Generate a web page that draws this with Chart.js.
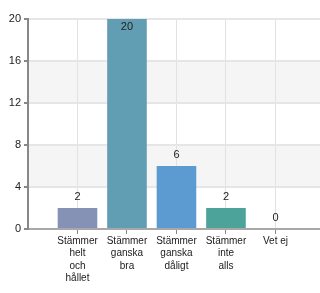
<!DOCTYPE html>
<html>
<head>
<meta charset="utf-8">
<script src="https://cdn.jsdelivr.net/npm/chart.js@4"></script>
<style>
  html, body { margin: 0; padding: 0; background: #fff; }
  #wrap { width: 320px; height: 293px; }
</style>
</head>
<body>
<div id="wrap"><canvas id="chart"></canvas></div>
<script>
// svarsalternativ (radbrutna som i originalet)
const categories = [
  ['Stämmer', 'helt', 'och', 'hållet'],
  ['Stämmer', 'ganska', 'bra'],
  ['Stämmer', 'ganska', 'dåligt'],
  ['Stämmer', 'inte', 'alls'],
  ['Vet ej']
];
const counts = [2, 20, 6, 2, 0];
const barColors = ['#8592b6', '#619db3', '#5c9bd2', '#4ba39a', '#8fb5cf'];
const yTicks = [0, 4, 8, 12, 16, 20];

// grå band mellan 4-8 och 12-16
const bandPlugin = {
  id: 'bands',
  beforeDraw(chart) {
    const { ctx, chartArea, scales } = chart;
    ctx.save();
    ctx.fillStyle = '#f5f5f5';
    for (let i = 1; i < yTicks.length - 1; i += 2) {
      const y1 = scales.y.getPixelForValue(yTicks[i + 1]);
      const y0 = scales.y.getPixelForValue(yTicks[i]);
      ctx.fillRect(chartArea.left, y1, chartArea.right - chartArea.left, y0 - y1);
    }
    ctx.restore();
  }
};

// värden ovanför staplarna
const valuePlugin = {
  id: 'values',
  afterDatasetsDraw(chart) {
    const { ctx, chartArea } = chart;
    const meta = chart.getDatasetMeta(0);
    ctx.save();
    ctx.font = '11px "Liberation Sans", Arial, sans-serif';
    ctx.fillStyle = '#222';
    ctx.textAlign = 'center';
    ctx.textBaseline = 'middle';
    meta.data.forEach((bar, i) => {
      let y = bar.y - 11;
      if (y < chartArea.top + 4) y = bar.y + 8;
      ctx.fillText(String(counts[i]), bar.x, y);
    });
    ctx.restore();
  }
};

new Chart(document.getElementById('chart'), {
  type: 'bar',
  data: {
    datasets: [{
      data: counts.map((v, i) => ({ x: i + 1, y: v })),
      backgroundColor: barColors,
      borderWidth: 0,
      barPercentage: 0.8,
      categoryPercentage: 1
    }]
  },
  options: {
    responsive: true,
    maintainAspectRatio: false,
    animation: false,
    layout: { padding: { top: 19, left: 0, right: 0, bottom: 0 } },
    plugins: { legend: { display: false }, tooltip: { enabled: false } },
    scales: {
      x: {
        type: 'linear',
        offset: false,
        min: 0,
        max: 5.9,
        afterBuildTicks(scale) {
          scale.ticks = categories.map((c, i) => ({ value: i + 1 }));
        },
        afterFit(scale) { scale.height = 64; },
        border: { color: '#a8a8a8', width: 2 },
        grid: { offset: false, color: '#e2e2e2', lineWidth: 1, tickLength: 5, tickColor: '#888' },
        ticks: {
          padding: 1,
          maxRotation: 0,
          autoSkip: false,
          color: '#1a1a1a',
          font: { family: '"Liberation Sans", Arial, sans-serif', size: 10, lineHeight: 1.23 },
          callback: (v) => categories[v - 1] || ''
        }
      },
      y: {
        min: 0,
        max: 20,
        afterBuildTicks(scale) {
          scale.ticks = yTicks.map(v => ({ value: v }));
        },
        afterFit(scale) { scale.width = 28; },
        border: { color: '#888', width: 2 },
        grid: { color: '#e6e6e6', lineWidth: 2, tickLength: 4, tickColor: '#888' },
        ticks: {
          padding: 3,
          color: '#222',
          font: { family: '"Liberation Sans", Arial, sans-serif', size: 11 }
        }
      }
    }
  },
  plugins: [bandPlugin, valuePlugin]
});
</script>
</body>
</html>
